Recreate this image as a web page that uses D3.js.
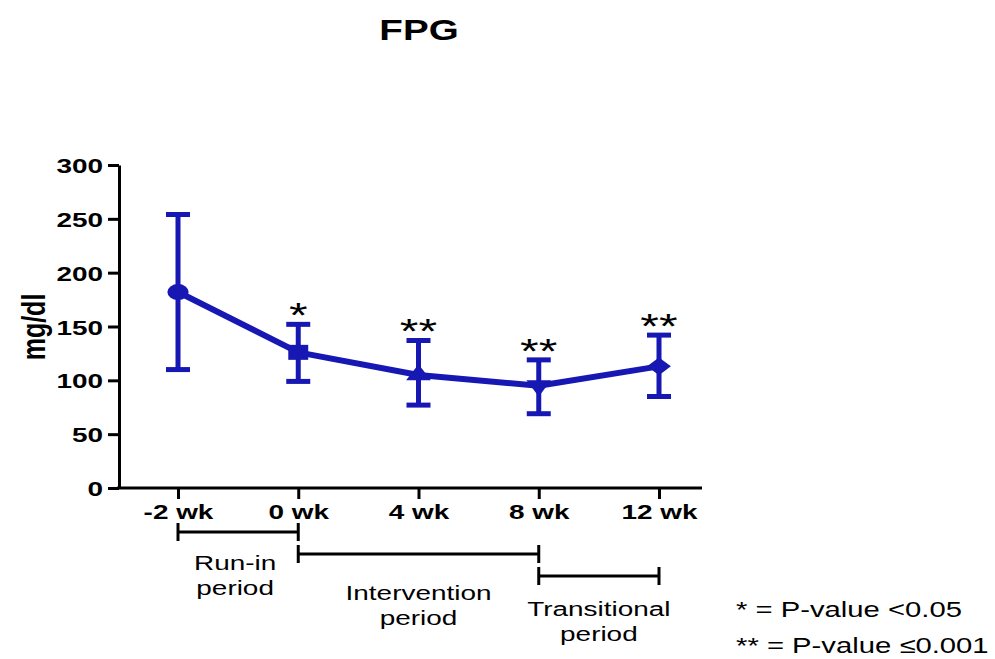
<!DOCTYPE html>
<html>
<head>
<meta charset="utf-8">
<script src="https://cdn.jsdelivr.net/npm/d3@7"></script>
<style>
  body { margin: 0; background: #fff; }
  text { font-family: "Liberation Sans", Arial, sans-serif; }
</style>
</head>
<body>
<svg width="995" height="659"></svg>
<script>
'use strict';

// data
var weeks  = ["-2 wk", "0 wk", "4 wk", "8 wk", "12 wk"];
var meanFpg = [182, 126, 105, 95, 113];
var upperFpg = [254, 152, 137, 119, 142];
var lowerFpg = [110, 99, 77, 69, 85];
var sigMarks = ["", "*", "**", "**", "**"];
var markerKinds = ["circle", "square", "triangle", "triangleDown", "diamond"];
var yTicks = [0, 50, 100, 150, 200, 250, 300];

var periods = [
  {from: "-2 wk", to: "0 wk",  label: ["Run-in", "period"]},
  {from: "0 wk",  to: "8 wk",  label: ["Intervention", "period"]},
  {from: "8 wk",  to: "12 wk", label: ["Transitional", "period"]}
];
var legendLines = ["* = P-value <0.05", "** = P-value \u22640.001"];

var blue = "#1717b4";
var sx = 1.33; // the source picture is stretched sideways

var svg = d3.select("svg");

var x = d3.scalePoint().domain(weeks).range([178, 659]);
var y = d3.scaleLinear().domain([0, 300]).range([488, 165]);

// text that is stretched horizontally like the original
function wideText(g, px, py, str, size, weight, anchor) {
  return g.append("text")
    .attr("transform", "translate(" + px + "," + py + ") scale(" + sx + ",1)")
    .attr("text-anchor", anchor || "middle")
    .attr("font-size", size)
    .attr("font-weight", weight || "normal")
    .text(str);
}

// title
wideText(svg, 419, 40, "FPG", 29, "bold");

// y axis
var yAxis = d3.axisLeft(y).tickValues(yTicks).tickSize(11).tickSizeOuter(0);
var gy = svg.append("g").attr("transform", "translate(119,0)").call(yAxis);
gy.select(".domain").attr("stroke-width", 3);
gy.selectAll(".tick line").attr("stroke-width", 3);
gy.selectAll(".tick text")
  .attr("font-size", 21).attr("font-weight", "bold")
  .attr("font-family", "Liberation Sans, Arial, sans-serif")
  .attr("x", -16 / sx).attr("dy", "0.36em")
  .attr("transform", "scale(" + sx + ",1)");

wideText(svg, 0, 0, "mg/dl", 25, "bold")
  .attr("transform", "translate(45,327) rotate(-90) scale(1," + sx + ")");

// x axis
svg.append("line")
  .attr("x1", 117).attr("x2", 702).attr("y1", y(0)).attr("y2", y(0))
  .attr("stroke", "#000").attr("stroke-width", 3);
var xAxis = d3.axisBottom(x).tickSize(11).tickSizeOuter(0);
var gx = svg.append("g").attr("transform", "translate(0," + y(0) + ")").call(xAxis);
gx.select(".domain").remove();
gx.selectAll(".tick line").attr("stroke-width", 3);
gx.selectAll(".tick text")
  .attr("font-size", 21).attr("font-weight", "bold")
  .attr("font-family", "Liberation Sans, Arial, sans-serif")
  .attr("y", 16).attr("dy", "0.71em")
  .attr("x", 0)
  .attr("transform", "scale(" + sx + ",1)");

// data points
var pts = weeks.map(function(w, i) {
  return {week: w, mean: meanFpg[i], hi: upperFpg[i], lo: lowerFpg[i], sig: sigMarks[i], kind: markerKinds[i]};
});

var plot = svg.append("g");

// error bars
plot.selectAll(".err").data(pts).enter().append("line")
  .attr("class", "err")
  .attr("x1", function(d) { return x(d.week); })
  .attr("x2", function(d) { return x(d.week); })
  .attr("y1", function(d) { return y(d.hi); })
  .attr("y2", function(d) { return y(d.lo); })
  .attr("stroke", blue).attr("stroke-width", 5);

["hi", "lo"].forEach(function(k) {
  plot.selectAll(".cap-" + k).data(pts).enter().append("line")
    .attr("class", "cap-" + k)
    .attr("x1", function(d) { return x(d.week) - 12; })
    .attr("x2", function(d) { return x(d.week) + 12; })
    .attr("y1", function(d) { return y(d[k]); })
    .attr("y2", function(d) { return y(d[k]); })
    .attr("stroke", blue).attr("stroke-width", 5);
});

// mean line
var line = d3.line()
  .x(function(d) { return x(d.week); })
  .y(function(d) { return y(d.mean); });

plot.append("path")
  .datum(pts)
  .attr("fill", "none")
  .attr("stroke", blue)
  .attr("stroke-width", 6)
  .attr("stroke-linejoin", "round")
  .attr("d", line);

// markers
var symbolFor = {
  circle:       {type: d3.symbolCircle,   size: 200, rot: 0},
  square:       {type: d3.symbolSquare,   size: 225, rot: 0},
  triangle:     {type: d3.symbolTriangle, size: 150, rot: 0},
  triangleDown: {type: d3.symbolTriangle, size: 150, rot: 180},
  diamond:      {type: d3.symbolSquare,   size: 160, rot: 45}
};

plot.selectAll(".marker").data(pts).enter().append("path")
  .attr("class", "marker")
  .attr("fill", blue)
  .attr("d", function(d) {
    var s = symbolFor[d.kind];
    return d3.symbol().type(s.type).size(s.size)();
  })
  .attr("transform", function(d) {
    var s = symbolFor[d.kind];
    return "translate(" + x(d.week) + "," + y(d.mean) + ") scale(" + sx + ",1) rotate(" + s.rot + ")";
  });

// significance asterisks
pts.forEach(function(d) {
  if (!d.sig) return;
  wideText(plot, x(d.week), y(d.hi) + 3, d.sig, 36, "normal");
});

// period brackets
var bracketY = [532, 554, 576];
var labelY = [570, 600, 616];
periods.forEach(function(p, i) {
  var g = svg.append("g");
  var x0 = x(p.from), x1 = x(p.to), by = bracketY[i];
  g.append("line").attr("x1", x0).attr("x2", x1).attr("y1", by).attr("y2", by)
    .attr("stroke", "#000").attr("stroke-width", 3);
  [x0, x1].forEach(function(xx) {
    g.append("line").attr("x1", xx).attr("x2", xx).attr("y1", by - 9).attr("y2", by + 9)
      .attr("stroke", "#000").attr("stroke-width", 3);
  });
  p.label.forEach(function(t, j) {
    wideText(g, (x0 + x1) / 2 + (i === 0 ? -3 : 0), labelY[i] + j * 25, t, 21, "normal");
  });
});

// legend
legendLines.forEach(function(t, i) {
  wideText(svg, 736, 617 + i * 36, t, 22, "normal", "start");
});
</script>
</body>
</html>
